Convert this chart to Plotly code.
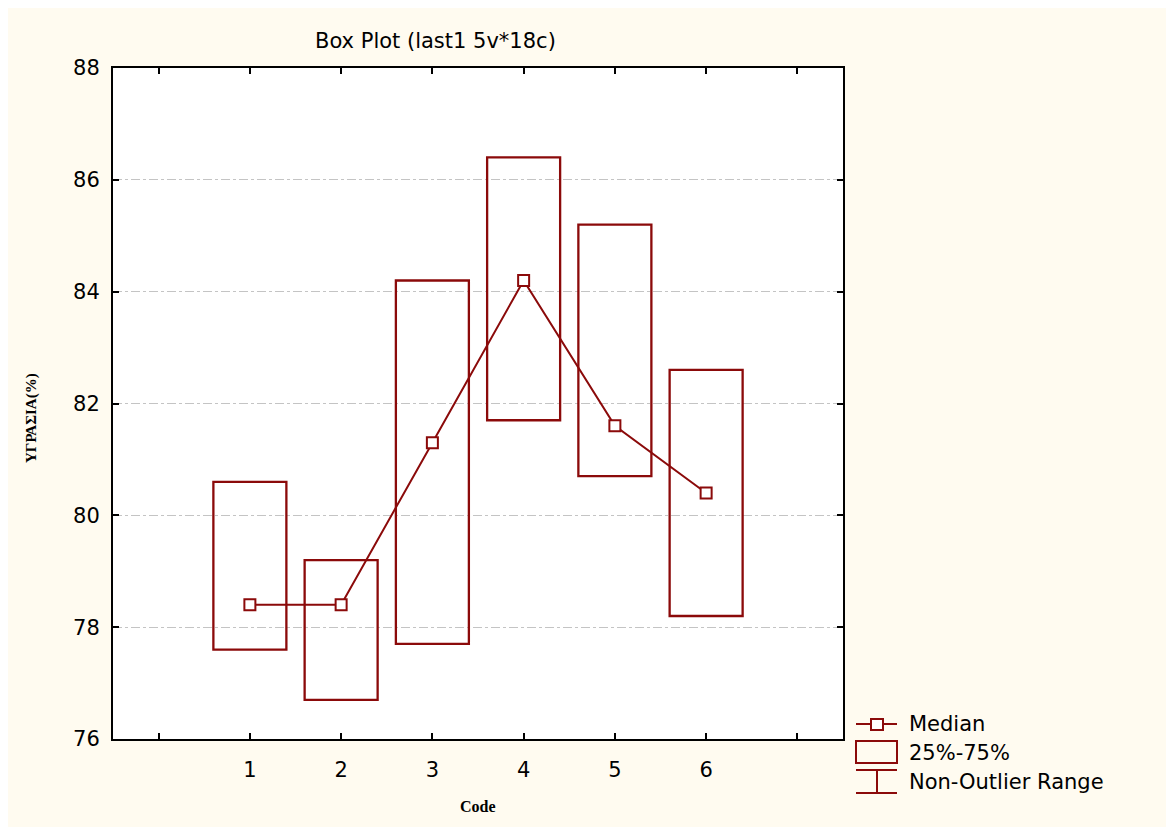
import plotly.graph_objects as go

# ---- data ----
codes = [1, 2, 3, 4, 5, 6]
q1 = [77.6, 76.7, 77.7, 81.7, 80.7, 78.2]
q3 = [80.6, 79.2, 84.2, 86.4, 85.2, 82.6]
medians = [78.4, 78.4, 81.3, 84.2, 81.6, 80.4]
x_tickvals = [0, 1, 2, 3, 4, 5, 6, 7]
x_ticktext = ["", "1", "2", "3", "4", "5", "6", ""]
legend_labels = ["Median", "25%-75%", "Non-Outlier Range"]

RED = "#8B0A0A"
BG = "#FFFBF0"
W, H = 1166, 819
ML, MR, MT, MB = 105, 331, 60, 88
PW = W - ML - MR
PH = H - MT - MB


def px(xp):
    return (xp - ML) / PW


def py(yp):
    return (H - MB - yp) / PH


fig = go.Figure()
fig.add_trace(go.Bar(
    x=codes, y=[b - a for a, b in zip(q1, q3)], base=q1, width=0.8,
    marker=dict(color="rgba(0,0,0,0)", line=dict(color=RED, width=2.3)),
    hoverinfo="skip", name=legend_labels[1],
))
fig.add_trace(go.Scatter(
    x=codes, y=medians, mode="lines+markers",
    line=dict(color=RED, width=2),
    marker=dict(symbol="square", size=11, color="white",
                line=dict(color=RED, width=2)),
    name=legend_labels[0],
))

tickfont = dict(family="DejaVu Sans", size=21, color="black")
fig.update_layout(
    width=W, height=H,
    margin=dict(l=ML, r=MR, t=MT, b=MB, pad=0),
    paper_bgcolor=BG, plot_bgcolor="white",
    showlegend=False,
    xaxis=dict(range=[-0.5, 7.5], tickvals=x_tickvals, ticktext=x_ticktext,
               ticks="inside", ticklen=6, tickwidth=2, tickcolor="black",
               showline=True, linewidth=2, linecolor="black", mirror="ticks",
               showgrid=False, zeroline=False, tickfont=tickfont,
               ticklabelstandoff=11),
    yaxis=dict(range=[76, 88], dtick=2, tick0=76,
               ticks="inside", ticklen=6, tickwidth=2, tickcolor="black",
               showline=True, linewidth=2, linecolor="black", mirror="ticks",
               showgrid=True, gridcolor="#c4c4c4", gridwidth=1, griddash="dashdot",
               zeroline=False, tickfont=tickfont, ticklabelstandoff=7),
)

annotations = [
    dict(text="Box Plot (last1 5v*18c)", x=px(427), y=py(33), xref="paper", yref="paper",
         showarrow=False, xanchor="center", yanchor="middle",
         font=dict(family="DejaVu Sans", size=21, color="black")),
    dict(text="<b>ΥΓΡΑΣΙΑ(%)</b>", x=px(23), y=py(410), xref="paper", yref="paper",
         showarrow=False, textangle=-90, xanchor="center", yanchor="middle",
         font=dict(family="Liberation Serif", size=15, color="black")),
    dict(text="<b>Code</b>", x=px(470), y=py(798), xref="paper", yref="paper",
         showarrow=False, xanchor="center", yanchor="middle",
         font=dict(family="Liberation Serif", size=16, color="black")),
]
leg_y = [716, 745, 774]
for lab, yy in zip(legend_labels, leg_y):
    annotations.append(dict(text=lab, x=px(899), y=py(yy), xref="paper", yref="paper",
                            showarrow=False, xanchor="left", yanchor="middle",
                            font=dict(family="DejaVu Sans", size=21, color="black")))

shapes = [
    # Median symbol
    dict(type="line", xref="paper", yref="paper", x0=px(848), x1=px(889), y0=py(716), y1=py(716),
         line=dict(color=RED, width=2)),
    dict(type="rect", xref="paper", yref="paper", x0=px(863), x1=px(875), y0=py(711), y1=py(722),
         fillcolor="white", line=dict(color=RED, width=2)),
    # 25%-75% box symbol
    dict(type="rect", xref="paper", yref="paper", x0=px(848), x1=px(889), y0=py(733), y1=py(755),
         fillcolor="rgba(0,0,0,0)", line=dict(color=RED, width=2)),
    # Non-outlier range symbol
    dict(type="line", xref="paper", yref="paper", x0=px(848), x1=px(889), y0=py(762), y1=py(762),
         line=dict(color=RED, width=2)),
    dict(type="line", xref="paper", yref="paper", x0=px(848), x1=px(889), y0=py(785), y1=py(785),
         line=dict(color=RED, width=2)),
    dict(type="line", xref="paper", yref="paper", x0=px(869), x1=px(869), y0=py(762), y1=py(785),
         line=dict(color=RED, width=2)),
]
fig.update_layout(annotations=annotations, shapes=shapes)

fig.write_html("out.html", post_script="document.body.style.overflow='hidden';")
